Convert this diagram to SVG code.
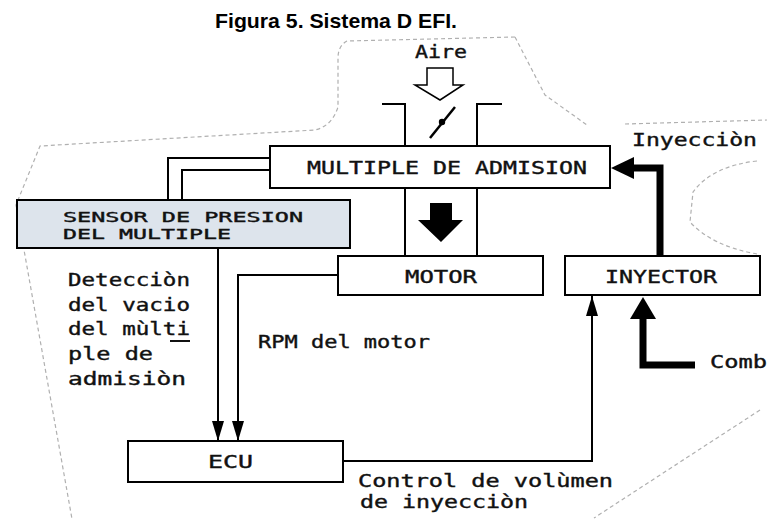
<svg xmlns="http://www.w3.org/2000/svg" width="767" height="519" viewBox="0 0 767 519">
<style>
.box{fill:#fff;stroke:#000;stroke-width:2}
.sens{fill:#dde4ec;stroke:#000;stroke-width:2}
.t{font-family:"DejaVu Sans Mono","Liberation Mono",monospace;font-size:18px;fill:#111;stroke:#111;stroke-width:0.4}
.ts{font-size:14.5px}
.ln{fill:none;stroke:#000;stroke-width:2}
.thick{fill:none;stroke:#000;stroke-width:7}
.dash{fill:none;stroke:#b0b0b0;stroke-width:1.2;stroke-dasharray:4 3}
</style>
<defs>
<marker id="ah" viewBox="0 0 20 12" refX="20" refY="6" markerWidth="20" markerHeight="12" markerUnits="userSpaceOnUse" orient="auto">
<path d="M0,0 L20,6 L0,12 z" fill="#000"/>
</marker>
</defs>
<rect width="767" height="519" fill="#fff"/>
<g id="outline">
<path class="dash" d="M515,37 L347,41 Q338,46 338,58 L338,107 Q332,126 315,130 L40,146 L16,205 L72,519"/>
<path class="dash" d="M515,37 L545,95 L587,125"/>
<path class="dash" d="M625,124 L767,120"/>
<path class="dash" d="M757,161 Q712,166 693,192 L690,222 Q712,246 757,254"/>
<path class="dash" d="M760,410 L594,518"/>
</g>
<text id="title" x="215" y="28" font-family="Liberation Sans,Arial,sans-serif" font-weight="bold" font-size="21" textLength="242" lengthAdjust="spacingAndGlyphs">Figura 5. Sistema D EFI.</text>
<g id="aire">
<text class="t" x="415" y="58" textLength="52" lengthAdjust="spacingAndGlyphs">Aire</text>
<polygon points="427,68 453,68 453,85 463,85 440,100 415,85 427,85" fill="#fff" stroke="#000" stroke-width="1.5"/>
</g>
<g id="pipe">
<polyline class="ln" points="382,104 405,104 405,146"/>
<polyline class="ln" points="502,104 477,104 477,146"/>
<line class="ln" x1="405" y1="188" x2="405" y2="256"/>
<line class="ln" x1="477" y1="188" x2="477" y2="256"/>
<line x1="430" y1="138" x2="455" y2="107" stroke="#000" stroke-width="2.5"/>
<circle cx="442" cy="122" r="3.2" fill="#000"/>
<polygon points="430,203 452,203 452,220 463,220 441,242 418,220 430,220" fill="#000"/>
</g>
<g id="multiple">
<rect class="box" x="270" y="146" width="340" height="42"/>
<text class="t" x="307" y="174" textLength="280" lengthAdjust="spacingAndGlyphs">MULTIPLE DE ADMISION</text>
</g>
<g id="sensor">
<polyline class="ln" points="270,158 168,158 168,200"/>
<polyline class="ln" points="270,170 182,170 182,200"/>
<rect class="sens" x="17" y="200" width="333" height="48"/>
<text class="t ts" x="63" y="222" textLength="240" lengthAdjust="spacingAndGlyphs">SENSOR DE PRESION</text>
<text class="t ts" x="63" y="239" textLength="168" lengthAdjust="spacingAndGlyphs">DEL MULTIPLE</text>
</g>
<g id="motor">
<rect class="box" x="338" y="256" width="205" height="39"/>
<text class="t" x="405" y="283" textLength="72" lengthAdjust="spacingAndGlyphs">MOTOR</text>
</g>
<g id="inyector">
<rect class="box" x="565" y="256" width="195" height="39"/>
<text class="t" x="605" y="283" textLength="112" lengthAdjust="spacingAndGlyphs">INYECTOR</text>
</g>
<g id="ecu">
<rect class="box" x="128" y="441" width="215" height="41"/>
<text class="t" x="208" y="468" textLength="45" lengthAdjust="spacingAndGlyphs">ECU</text>
</g>
<g id="connectors">
<line class="ln" x1="218" y1="248" x2="218" y2="441" marker-end="url(#ah)"/>
<polyline class="ln" points="338,275 238,275 238,441" marker-end="url(#ah)"/>
<polyline class="ln" points="343,461 592,461 592,296" marker-end="url(#ah)"/>
<polyline class="thick" points="660,256 660,168 630,168"/>
<polygon points="611,168 634,157 634,179" fill="#000"/>
<polyline class="thick" points="695,365 643,365 643,316"/>
<polygon points="643,297 630,319 656,319" fill="#000"/>
</g>
<g id="labels">
<text class="t" x="632" y="146" textLength="125" lengthAdjust="spacingAndGlyphs">Inyecciòn</text>
<text class="t" x="68" y="286" textLength="122" lengthAdjust="spacingAndGlyphs">Detecciòn</text>
<text class="t" x="68" y="311" textLength="122" lengthAdjust="spacingAndGlyphs">del vacio</text>
<text class="t" x="68" y="335" textLength="122" lengthAdjust="spacingAndGlyphs">del mùlti</text>
<line x1="170" y1="341" x2="190" y2="341" stroke="#111" stroke-width="2"/>
<text class="t" x="68" y="360" textLength="85" lengthAdjust="spacingAndGlyphs">ple de</text>
<text class="t" x="68" y="385" textLength="118" lengthAdjust="spacingAndGlyphs">admisiòn</text>
<text class="t" x="258" y="348" textLength="172" lengthAdjust="spacingAndGlyphs">RPM del motor</text>
<text class="t" x="358" y="487" textLength="255" lengthAdjust="spacingAndGlyphs">Control de volùmen</text>
<text class="t" x="360" y="508" textLength="168" lengthAdjust="spacingAndGlyphs">de inyecciòn</text>
<text class="t" x="710" y="368" textLength="57" lengthAdjust="spacingAndGlyphs">Comb</text>
</g>
</svg>
